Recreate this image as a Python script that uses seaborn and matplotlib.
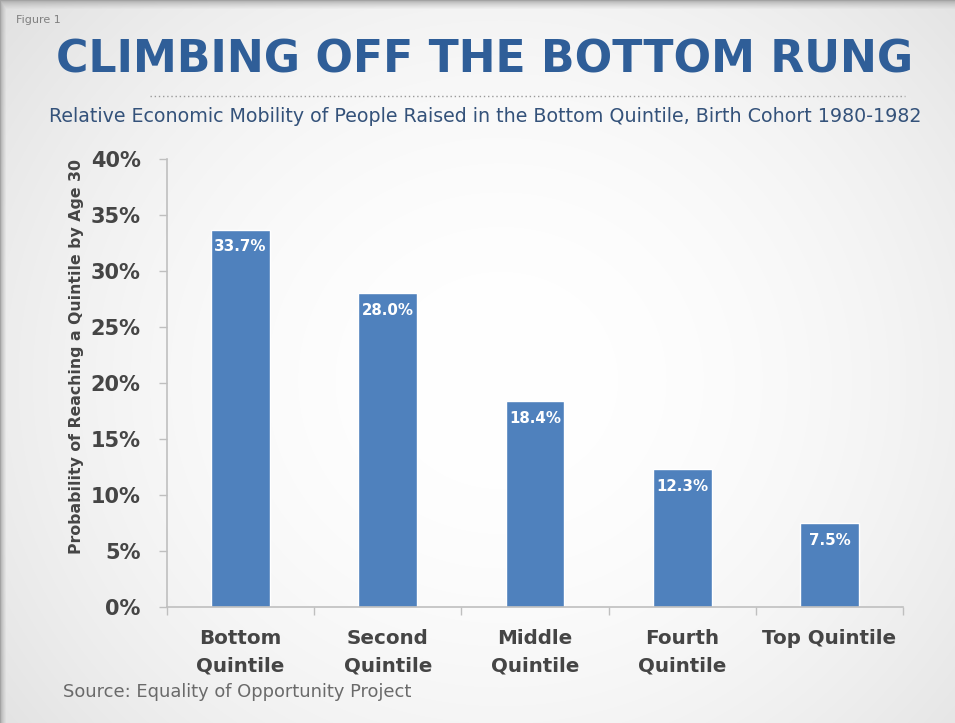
import numpy as np
import pandas as pd
import matplotlib
matplotlib.use("Agg")
import matplotlib.pyplot as plt
from matplotlib.ticker import FixedLocator, FuncFormatter
import seaborn as sns

# Data
categories = ["Bottom\nQuintile", "Second\nQuintile", "Middle\nQuintile",
              "Fourth\nQuintile", "Top Quintile"]
values = [33.7, 28.0, 18.4, 12.3, 7.5]
y_ticks = [0, 5, 10, 15, 20, 25, 30, 35, 40]

title = "CLIMBING OFF THE BOTTOM RUNG"
subtitle = ("Relative Economic Mobility of People Raised in the Bottom Quintile, "
            "Birth Cohort 1980-1982")
y_label = "Probability of Reaching a Quintile by Age 30"
source = "Source: Equality of Opportunity Project"

BAR = "#4F81BD"
TITLE_BLUE = "#2F5E98"
SUB_BLUE = "#34527A"
TEXT_GRAY = "#454545"
AXIS_GRAY = "#BFBFBF"
FONT = ["DejaVu Sans"]

sns.set_theme(style="white")
plt.rcParams["font.family"] = FONT

W, H = 955, 723
fig = plt.figure(figsize=(W / 100, H / 100), dpi=100)


def fit_width(artist, target_px, horizontal=True):
    """Scale an artist's font size so its extent spans target_px."""
    r = fig.canvas.get_renderer()
    bb = artist.get_window_extent(renderer=r)
    size = bb.width if horizontal else bb.height
    artist.set_fontsize(artist.get_fontsize() * target_px / size)


# Background card with a soft radial shading and a drop shadow on top/left
bg = fig.add_axes([0, 0, 1, 1], zorder=-10)
yy, xx = np.mgrid[0:H, 0:W].astype(float)
r2 = ((xx - 500) / 560) ** 2 + ((yy - 380) / 520) ** 2
card = 1.0 - 0.09 * np.clip(r2, 0, 1.6)
shade = np.ones_like(card) * 0.64
top = np.clip(yy / 9.0, 0, 1)
left = np.clip(xx / 6.0, 0, 1)
mask = np.minimum(top, left)
gray = shade + (card - shade) * mask ** 0.6
rgb = np.dstack([gray, gray, gray])
bg.imshow(rgb, aspect="auto", interpolation="bilinear", extent=[0, W, H, 0])
bg.set_axis_off()

ax = fig.add_axes([167 / W, 1 - 607 / H, (903 - 167) / W, (607 - 159) / H])
ax.patch.set_alpha(0)

df = pd.DataFrame({"category": categories, "value": values})
sns.barplot(data=df, x="category", y="value", color=BAR, width=0.4,
            saturation=1, ax=ax)

for patch, v in zip(ax.patches, values):
    cx = patch.get_x() + patch.get_width() / 2
    ax.annotate(f"{v:.1f}%", (cx, v), xytext=(0, -7), textcoords="offset points",
                ha="center", va="top", color="white", fontsize=10.8,
                fontweight="bold")

ax.set_xlim(-0.5, len(categories) - 0.5)
ax.set_ylim(0, 40)
ax.yaxis.set_major_locator(FixedLocator(y_ticks))
ax.yaxis.set_major_formatter(FuncFormatter(lambda v, p: f"{v:.0f}%"))
ax.xaxis.set_minor_locator(FixedLocator(np.arange(-0.5, len(categories), 1.0)))

for side in ["top", "right"]:
    ax.spines[side].set_visible(False)
for side in ["left", "bottom"]:
    ax.spines[side].set_color(AXIS_GRAY)
    ax.spines[side].set_linewidth(1.2)

ax.tick_params(axis="y", which="major", direction="out", length=6, width=1,
               color=AXIS_GRAY, pad=13, labelsize=15, labelcolor=TEXT_GRAY, left=True)
ax.tick_params(axis="x", which="major", length=0, pad=16, labelsize=14.3,
               labelcolor=TEXT_GRAY)
ax.tick_params(axis="x", which="minor", direction="out", length=6, width=1,
               color=AXIS_GRAY, bottom=True)
for lbl in ax.get_yticklabels() + ax.get_xticklabels():
    lbl.set_fontweight("bold")
for lbl in ax.get_xticklabels():
    lbl.set_va("top")
    lbl.set_linespacing(1.55)

ax.set_xlabel("")
ax.set_ylabel(y_label, fontsize=11.5, fontweight="bold", color=TEXT_GRAY)
ax.yaxis.set_label_coords((84 - 167) / (903 - 167), (607 - 357) / (607 - 159))
ax.grid(False)

fig.text(16 / W, 1 - 20 / H, "Figure 1", fontsize=8, color="#808080",
         ha="left", va="center")
t = fig.text(485 / W, 1 - 60 / H, title, fontsize=33, fontweight="bold",
             color=TITLE_BLUE, ha="center", va="center")
fig.add_artist(plt.Line2D([150 / W, 905 / W], [1 - 96 / H, 1 - 96 / H],
                          color="#9A9A9A", linewidth=1, linestyle=(0, (1, 2))))
s = fig.text(485 / W, 1 - 117 / H, subtitle, fontsize=13, color=SUB_BLUE,
             ha="center", va="center")
src = fig.text(63 / W, 1 - 692 / H, source, fontsize=12, color="#6A6A6A",
               ha="left", va="center")

fit_width(t, 859)
fit_width(s, 870)
fit_width(src, 348)
fit_width(ax.yaxis.label, 395, horizontal=False)

fig.savefig("out.png", dpi=100)
